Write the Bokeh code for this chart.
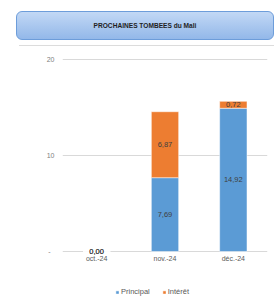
from bokeh.plotting import figure
from bokeh.models import (ColumnDataSource, FactorRange, Legend, LegendItem,
                          LabelSet, FixedTicker, Div, LinearAxis)
from bokeh.core.properties import value
from bokeh.layouts import column
from bokeh.embed import file_html
from bokeh.resources import INLINE

categories = ["oct.-24", "nov.-24", "déc.-24"]
principal = [0.00, 7.69, 14.92]
interet = [0.00, 6.87, 0.72]
y_ticks = [0, 10, 20]
y_tick_labels = ["-\u00a0\u00a0", "10", "20"]
title_text = "PROCHAINES TOMBEES du Mali"
series_names = ["Principal", "Intérêt"]
colors = ["#5b9bd5", "#ed7d31"]

FONT = "Liberation Sans"

src = ColumnDataSource(data=dict(
    cat=categories,
    top_p=principal,
    top_i=[a + b for a, b in zip(principal, interet)],
    mid_p=[a / 2 for a in principal],
    mid_i=[a + b / 2 for a, b in zip(principal, interet)],
    lab_p=[f"{v:.2f}".replace(".", ",") for v in principal],
    lab_i=[f"{v:.2f}".replace(".", ",") for v in interet],
))

title_div = Div(
    text=(f'<div style="position:relative;width:258px;height:35px;">'
          f'<div style="position:absolute;left:0;top:0;box-sizing:border-box;'
          f'width:258px;height:29px;line-height:27px;text-align:center;'
          f'font-family:\'{FONT}\';font-weight:bold;font-size:6.6px;color:#1f1f1f;'
          f'background:linear-gradient(#c2d8f5,#93b8e9);'
          f'border:1px solid #6d9dda;border-radius:6px;">{title_text}</div>'
          f'<div style="position:absolute;left:3px;top:34px;width:255px;'
          f'height:1px;background:#dcdcdc;"></div></div>'),
    width=258, height=35, margin=(11, 0, 0, 16))

p = figure(x_range=FactorRange(*categories, range_padding=0),
           y_range=(-5.625, 21.354),
           width=275, height=259,
           output_backend="svg", toolbar_location=None,
           min_border_left=62, min_border_right=8,
           min_border_top=0, min_border_bottom=0,
           background_fill_color="white", border_fill_color="white",
           outline_line_color=None)

r1 = p.vbar(x="cat", bottom=0, top="top_p", width=0.4, source=src,
            fill_color=colors[0], line_color="white", line_width=0.5)
r2 = p.vbar(x="cat", bottom="top_p", top="top_i", width=0.4, source=src,
            fill_color=colors[1], line_color="white", line_width=0.5)

for ycol, tcol in (("mid_p", "lab_p"), ("mid_i", "lab_i")):
    p.add_layout(LabelSet(x="cat", y=ycol, text=tcol, source=src,
                          text_font=value(FONT), text_font_size="7.5px",
                          text_color="#404040", text_align="center",
                          text_baseline="middle"))

p.yaxis.ticker = FixedTicker(ticks=y_ticks)
p.yaxis.major_label_overrides = {t: l for t, l in zip(y_ticks, y_tick_labels)}
p.yaxis.axis_line_color = None
p.yaxis.major_tick_line_color = None
p.yaxis.minor_tick_line_color = None
p.yaxis.major_tick_out = 0
p.yaxis.major_tick_in = 0
p.yaxis.major_label_text_font = FONT
p.yaxis.major_label_text_font_size = "7px"
p.yaxis.major_label_text_color = "#808080"
p.yaxis.major_label_standoff = 8

# light panel border on the left (decoration)
edge = LinearAxis(fixed_location=-0.629, ticker=FixedTicker(ticks=[]),
                  axis_line_color="#dcdcdc", axis_line_width=1,
                  major_tick_line_color=None, minor_tick_line_color=None,
                  major_label_text_font_size="0px")
p.add_layout(edge, "left")

p.xaxis.fixed_location = 0
p.xaxis.axis_line_color = None
p.xaxis.major_tick_line_color = None
p.xaxis.minor_tick_line_color = None
p.xaxis.major_tick_out = 0
p.xaxis.major_tick_in = 0
p.xaxis.major_label_text_font = FONT
p.xaxis.major_label_text_font_size = "7px"
p.xaxis.major_label_text_color = "#595959"
p.xaxis.major_label_standoff = 4

p.xgrid.grid_line_color = None
p.ygrid.grid_line_color = "#d9d9d9"
p.ygrid.grid_line_width = 1

legend = Legend(items=[LegendItem(label=series_names[0], renderers=[r1]),
                       LegendItem(label=series_names[1], renderers=[r2])],
                orientation="horizontal", location=(53, 9),
                label_text_font=FONT, label_text_font_size="7.5px",
                label_text_color="#595959", glyph_width=4, glyph_height=4,
                label_standoff=2, spacing=12, padding=0, margin=0,
                border_line_color=None, background_fill_alpha=0,
                label_height=8)
p.add_layout(legend, "center")

layout = column(title_div, p)
open("out.html", "w").write(file_html(layout, INLINE))
